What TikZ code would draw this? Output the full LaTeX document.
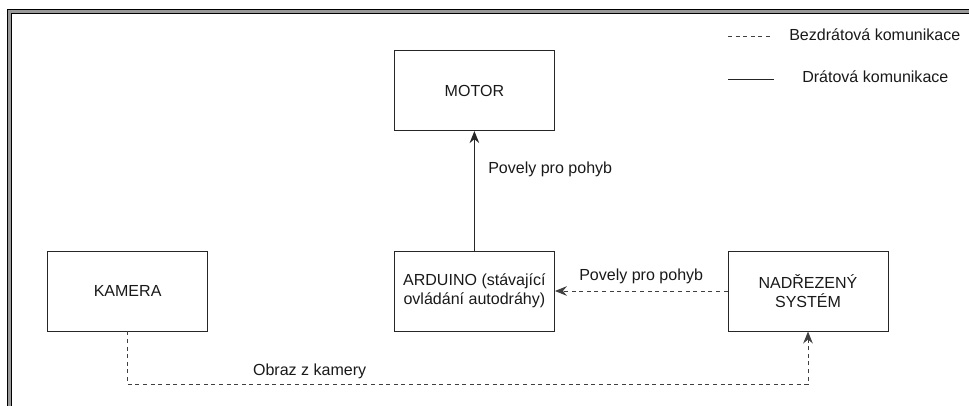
\documentclass[tikz,border=0pt]{standalone}
\usepackage{fontspec}
\setmainfont{Liberation Sans}
\usetikzlibrary{arrows.meta, positioning, calc}

\begin{document}
\begin{tikzpicture}[
    modbox/.style={draw=black!85, line width=0.7pt, minimum width=4cm, minimum height=2cm, align=center, text=black!90, font=\fontsize{11.4}{13.6}\selectfont},
    wired/.style={-{Stealth[length=0.3cm, width=0.24cm, inset=0.1cm]}, draw=black!85, line width=0.7pt},
    wireless/.style={wired, draw=black!75, dash pattern=on 0.1cm off 0.09cm},
    lbl/.style={inner sep=0pt, text=black!90, font=\fontsize{11.4}{13.6}\selectfont}
]
    \useasboundingbox (0,0) rectangle (24.225,10.125);
    \draw[line width=0.025cm, double=black!40, double distance=0.075cm, line join=miter] (0.225,-0.3) -- (0.225,9.825) -- (24.6,9.825);

    \node[modbox] (motor) at (11.86,7.86) {MOTOR};
    \node[modbox] (kamera) at (3.19,2.85) {KAMERA};
    \node[modbox] (arduino) at (11.86,2.85) {ARDUINO (stávající\\ovládání autodráhy)};
    \node[modbox] (nadrazeny) at (20.2,2.85) {NADŘEZENÝ\\SYSTÉM};

    \draw[wired] (arduino) -- (motor);
    \node[lbl, anchor=base west] (lblmotor) at ($(motor.south)+(0.34,-1.06)$) {Povely pro pohyb};

    \draw[wireless] (nadrazeny) -- (arduino);
    \node[lbl, anchor=base] (lblarduino) at ($(arduino.east)!0.5!(nadrazeny.west)+(0,0.27)$) {Povely pro pohyb};

    \draw[wireless] (kamera.south) -- ++(0,-1.325) -| (nadrazeny.south);
    \node[lbl, anchor=base] (lblkamera) at (7.74,0.745) {Obraz z kamery};

    \coordinate (wlA) at (18.2,9.225);
    \coordinate (wlB) at (19.325,9.225);
    \draw[draw=black!75, line width=0.7pt, dash pattern=on 0.1cm off 0.09cm] (wlA) -- (wlB);
    \node[lbl, anchor=base west] (legwireless) at (19.725,9.107) {Bezdrátová komunikace};

    \coordinate (wA) at (18.2,8.15);
    \coordinate (wB) at (19.35,8.15);
    \draw[draw=black!85, line width=0.7pt] (wA) -- (wB);
    \node[lbl, anchor=base west] (legwired) at (20.05,8.057) {Drátová komunikace};
\end{tikzpicture}
\end{document}
